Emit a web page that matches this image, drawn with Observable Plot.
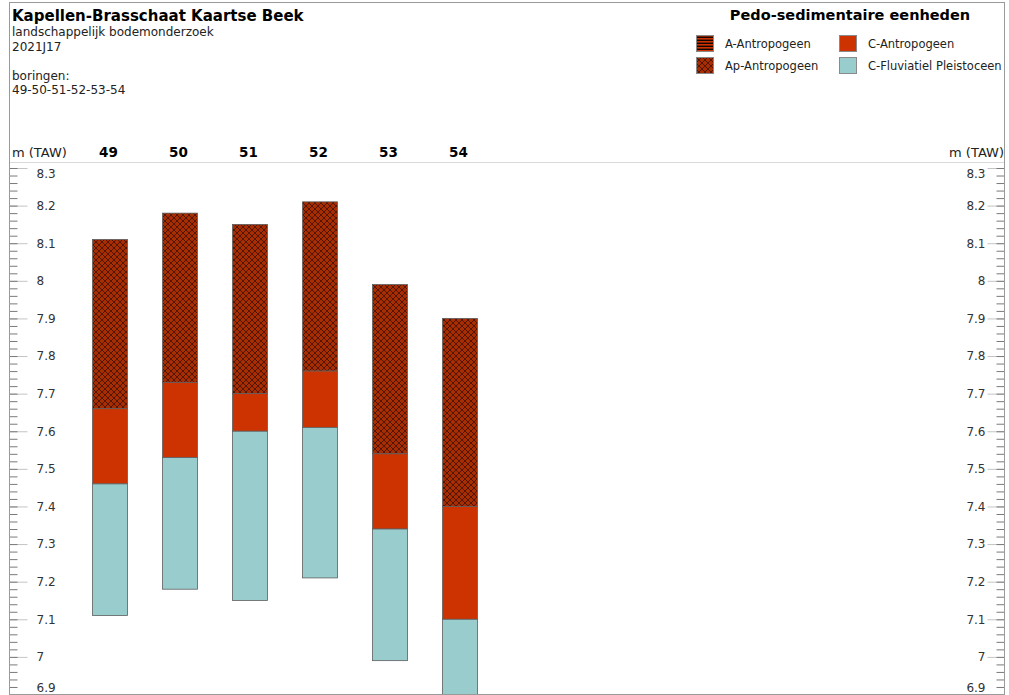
<!DOCTYPE html>
<html>
<head>
<meta charset="utf-8">
<script src="https://cdn.jsdelivr.net/npm/d3@7"></script>
<script src="https://cdn.jsdelivr.net/npm/@observablehq/plot@0.6"></script>
<style>
  body { margin: 0; background: #fff; font-family: "DejaVu Sans", sans-serif; color: #111; }
  #root { position: relative; width: 1009px; height: 695px; overflow: hidden; background: #fff; }
  #frame { position: absolute; left: 9px; top: 2px; width: 996px; height: 693px; border: 1px solid #9a9a9a; box-sizing: border-box; pointer-events: none; z-index: 3; }
  #header { position: absolute; left: 9px; top: 2px; width: 996px; height: 161px; border-bottom: 1px solid #dadada; box-sizing: border-box; }
  #title { position: absolute; left: 3px; top: 5px; font-size: 15px; font-weight: bold; color: #000; white-space: nowrap; }
  #sub { position: absolute; left: 3px; top: 23px; font-size: 12px; line-height: 14.5px; color: #222; white-space: nowrap; }
  #legend-title { position: absolute; left: 686px; width: 310px; top: 5px; text-align: center; font-size: 14.5px; font-weight: bold; color: #000; white-space: nowrap; }
  .item { position: absolute; display: flex; align-items: center; font-size: 11.5px; color: #222; white-space: nowrap; }
  .item svg { margin-right: 11px; }
  #chart { position: absolute; left: 0; top: 140px; }
</style>
</head>
<body>
<svg width="0" height="0" style="position:absolute">
  <defs>
    <pattern id="pat-ap" width="6" height="6" patternUnits="userSpaceOnUse">
      <rect width="6" height="6" fill="#a62e02"/>
      <path d="M0,0L6,6M6,0L0,6" stroke="#3e0e00" stroke-width="0.8"/>
      <circle cx="3" cy="3" r="0.9" fill="#5a1500"/>
    </pattern>
    <pattern id="pat-a" width="3" height="3" patternUnits="userSpaceOnUse">
      <rect width="3" height="3" fill="#cc3300"/>
      <rect y="1.6" width="3" height="1.4" fill="#140500"/>
    </pattern>
  </defs>
</svg>
<div id="root">
  <div id="header">
    <div id="title">Kapellen-Brasschaat Kaartse Beek</div>
    <div id="sub">landschappelijk bodemonderzoek<br>2021J17<br><br>boringen:<br>49-50-51-52-53-54</div>
    <div id="legend-title">Pedo-sedimentaire eenheden</div>
  </div>
  <div id="chart"></div>
  <div id="frame"></div>
</div>
<script>
// Borings along the section and the depth (m TAW) of each layer boundary
const borings = ["49", "50", "51", "52", "53", "54"];
const surface  = [8.11, 8.18, 8.15, 8.21, 7.99, 7.90]; // top of Ap-Antropogeen
const apBase   = [7.66, 7.73, 7.70, 7.76, 7.54, 7.40]; // base of Ap / top of C-Antropogeen
const cBase    = [7.46, 7.53, 7.60, 7.61, 7.34, 7.10]; // base of C-Antropogeen
const boreBase = [7.11, 7.18, 7.15, 7.21, 6.99, 6.80]; // end of the boring

const units = ["A-Antropogeen", "Ap-Antropogeen", "C-Antropogeen", "C-Fluviatiel Pleistoceen"];
const unitFill = {
  "A-Antropogeen": "url(#pat-a)",
  "Ap-Antropogeen": "url(#pat-ap)",
  "C-Antropogeen": "#cc3300",
  "C-Fluviatiel Pleistoceen": "#99cccc"
};

const yDomain = [6.9, 8.3];
const majorTicks = d3.range(69, 84).map(d => d / 10);
const minorTicks = d3.range(345, 416).map(d => d / 50);

// Legend (two columns, two rows)
const legendPos = [
  {unit: "A-Antropogeen", left: 687, top: 33},
  {unit: "Ap-Antropogeen", left: 687, top: 55},
  {unit: "C-Antropogeen", left: 830, top: 33},
  {unit: "C-Fluviatiel Pleistoceen", left: 830, top: 55}
];
const header = document.getElementById("header");
for (const {unit, left, top} of legendPos) {
  const el = document.createElement("div");
  el.className = "item";
  el.style.left = left + "px";
  el.style.top = top + "px";
  el.innerHTML = `<svg width="18" height="17"><rect x="0.5" y="0.5" width="17" height="16" fill="${unitFill[unit]}" stroke="#8a8a8a" stroke-width="1"/></svg><span>${unit}</span>`;
  header.appendChild(el);
}

// Layer table
const layers = [];
borings.forEach((b, i) => {
  layers.push({i, boring: b, unit: "Ap-Antropogeen", top: surface[i], base: apBase[i]});
  layers.push({i, boring: b, unit: "C-Antropogeen", top: apBase[i], base: cBase[i]});
  layers.push({i, boring: b, unit: "C-Fluviatiel Pleistoceen", top: cBase[i], base: boreBase[i]});
});

const W = 1009, H = 555;
const mL = 9.5, mR = 4.5;
const plotW = W - mL - mR;
const colStep = 70;            // px between borings
const firstCol = 110 - mL;     // px from the left axis to the first boring
const xDomain = [-firstCol / colStep, (plotW - firstCol) / colStep];
const half = 0.25;
const fmt = d3.format("~g");
const inner = majorTicks.filter(d => d > 6.9 && d < 8.3);

const label = (data, side, extra) => Plot.text(data, {
  y: d => d, text: d => fmt(d),
  frameAnchor: side,
  dx: side === "left" ? 26.5 : -19.5,
  textAnchor: side === "left" ? "start" : "end",
  fontSize: 12, fill: "#333", ...extra
});

const chart = Plot.plot({
  width: W,
  height: H,
  marginTop: 28,
  marginBottom: 0.5,
  marginLeft: mL,
  marginRight: mR,
  x: {domain: xDomain, axis: null},
  y: {domain: yDomain, axis: null},
  color: {type: "identity"},
  style: {fontFamily: "DejaVu Sans, sans-serif", background: "transparent"},
  marks: [
    // left axis ticks (inward)
    Plot.ruleY(majorTicks, {y: d => d, insetRight: plotW - 18, stroke: "#c4c4c4"}),
    Plot.ruleY(minorTicks, {y: d => d, insetRight: plotW - 8, stroke: "#7a7a7a"}),
    // right axis ticks (inward)
    Plot.ruleY(majorTicks, {y: d => d, insetLeft: plotW - 17, stroke: "#c4c4c4"}),
    Plot.ruleY(minorTicks, {y: d => d, insetLeft: plotW - 8, stroke: "#7a7a7a"}),
    // tick labels, end labels nudged inside the frame
    label(inner, "left"),
    label([8.3], "left", {dy: 6}),
    label([6.9], "left", {dy: -7}),
    label(inner, "right"),
    label([8.3], "right", {dy: 6}),
    label([6.9], "right", {dy: -7}),
    // boring columns
    Plot.rect(layers, {
      x1: d => d.i - half,
      x2: d => d.i + half,
      y1: "base",
      y2: "top",
      fill: d => unitFill[d.unit],
      stroke: "#5e5e5e",
      strokeWidth: 0.8,
      clip: true
    }),
    // column headers
    Plot.text(borings, {x: (d, i) => i, text: d => d, frameAnchor: "top", dy: -21, dx: -2, fontWeight: "bold", fontSize: 13.5, fill: "#000"}),
    Plot.text(["m (TAW)"], {text: d => d, frameAnchor: "top-left", dy: -21, dx: 2, textAnchor: "start", fontSize: 13, fill: "#222"}),
    Plot.text(["m (TAW)"], {text: d => d, frameAnchor: "top-right", dy: -21, dx: -1, textAnchor: "end", fontSize: 13, fill: "#222"})
  ]
});
document.getElementById("chart").appendChild(chart);
</script>
</body>
</html>
